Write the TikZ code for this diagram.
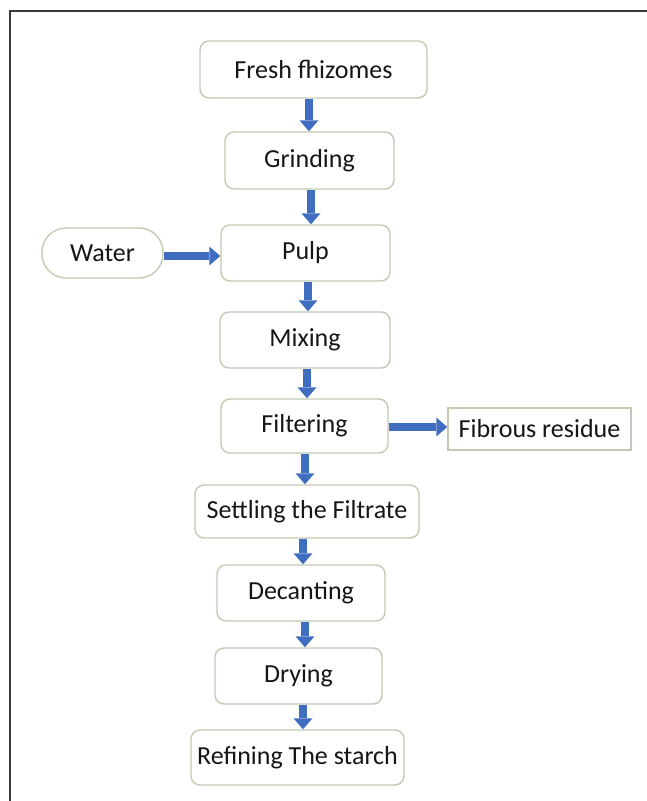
\documentclass[tikz,border=0pt]{standalone}
\usepackage{fontspec}
\setmainfont{Carlito}
\usetikzlibrary{arrows.meta}
\definecolor{arrowblue}{HTML}{3F6DC0}
\definecolor{boxline}{HTML}{C2CAB4}
\definecolor{framegray}{HTML}{3A3A3A}
\definecolor{txt}{HTML}{161616}
\tikzset{
  procbox/.style={draw=boxline, line width=1.4pt, fill=white, rounded corners=9pt,
    inner sep=0pt, text=txt, font=\fontsize{26}{31}\selectfont},
  waterbox/.style={procbox, rounded corners=24pt},
  sqbox/.style={procbox, rounded corners=0pt},
  flowarrow/.style={draw=arrowblue, line width=8pt,
    -{Triangle[length=11pt,width=19pt,line width=0pt]}},
}
\begin{document}
\begin{tikzpicture}[x=1pt,y=-1pt]
\useasboundingbox (0,0) rectangle (647,801);
% frame
\draw[framegray, line width=1.5pt] (10,801) -- (10,11) -- (647,11);
% boxes
\node[procbox, minimum width=227pt, minimum height=57pt] (fresh) at (313.5,69.5) {Fresh fhizomes};
\node[procbox, minimum width=169pt, minimum height=57pt] (grind) at (309.5,160.5) {Grinding};
\node[procbox, minimum width=169pt, minimum height=56pt] (pulp) at (305.5,253) {Pulp};
\node[waterbox, minimum width=121pt, minimum height=50pt] (water) at (102.5,253) {Water};
\node[procbox, minimum width=170pt, minimum height=56pt] (mixing) at (305,340) {Mixing};
\node[procbox, minimum width=167pt, minimum height=54pt] (filter) at (304.5,426) {Filtering};
\node[sqbox, minimum width=183pt, minimum height=42pt] (fibrous) at (539.5,429) {Fibrous residue};
\node[procbox, minimum width=224pt, minimum height=53pt] (settle) at (307,511.5) {Settling the Filtrate};
\node[procbox, minimum width=168pt, minimum height=56pt] (decant) at (301,593) {Decanting};
\node[procbox, minimum width=167pt, minimum height=56pt] (drying) at (298.5,676) {Drying};
\node[procbox, minimum width=213pt, minimum height=55pt] (refine) at (297.5,757.5) {Refining The starch};
% arrows
\draw[flowarrow] ([xshift=-4.5pt]fresh.south) -- ([xshift=-0.5pt]grind.north);
\draw[flowarrow] ([xshift=1.5pt]grind.south) -- ([xshift=5.5pt]pulp.north);
\draw[flowarrow] ([xshift=2.5pt]pulp.south) -- ([xshift=3pt]mixing.north);
\draw[flowarrow] ([xshift=2pt]mixing.south) -- ([xshift=2.5pt]filter.north);
\draw[flowarrow] ([xshift=0.5pt]filter.south) -- ([xshift=-2pt]settle.north);
\draw[flowarrow] ([xshift=-4pt]settle.south) -- ([xshift=2pt]decant.north);
\draw[flowarrow] ([xshift=4pt]decant.south) -- ([xshift=6.5pt]drying.north);
\draw[flowarrow] ([xshift=4.5pt]drying.south) -- ([xshift=5.5pt]refine.north);
\draw[flowarrow] ([yshift=-3pt]water.east) -- ([yshift=-3pt]pulp.west);
\draw[flowarrow] ([yshift=-1pt]filter.east) -- ([yshift=2pt]fibrous.west);
\end{tikzpicture}
\end{document}
